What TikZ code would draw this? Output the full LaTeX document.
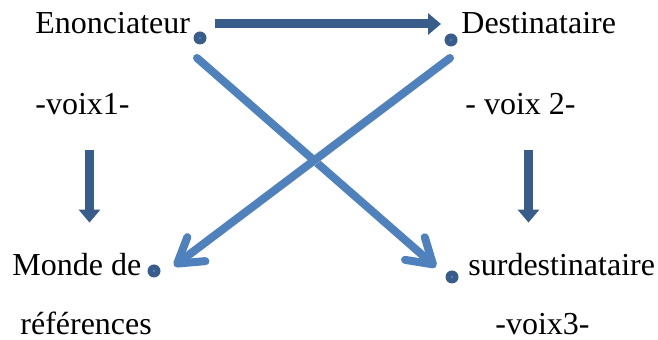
\documentclass[tikz,border=0pt]{standalone}
\usepackage{fontspec}
\setmainfont{Liberation Serif}
\usepackage{xcolor}
\usetikzlibrary{arrows.meta,positioning}
\definecolor{darkblue}{HTML}{385D8A}
\definecolor{lightblue}{HTML}{4F81BD}

\begin{document}
\begin{tikzpicture}[
    x=0.5pt, y=-0.5pt,
    lbl/.style={anchor=base west, inner sep=0pt, text height=11pt, text depth=3pt, font=\fontsize{16}{19}\selectfont},
    pt/.style={circle, fill=darkblue, inner sep=0pt, minimum size=6.5pt, path picture={\fill[lightblue] (path picture bounding box.center) circle (0.7pt);}},
    darr/.style={draw=darkblue, line width=4.5pt, -{Triangle[length=6.5pt, width=10.5pt]}},
    larr/.style={draw=lightblue, line width=4pt, line cap=round,
        -{Straight Barb[length=12pt, width=15pt, line cap=round, round]},
        preaction={draw=black!18, transform canvas={shift={(1.2pt,-1.5pt)}}}}
]
    \useasboundingbox (0,0) rectangle (658,340);

    \node[lbl] (enon) at (35,34) {Enonciateur};
    \node[lbl] (dest) at (461,34) {Destinataire};
    \node[lbl] (v1) at (35,115) {-voix1-};
    \node[lbl] (v2) at (465,115) {- voix 2-};
    \node[lbl] (monde) at (12,276) {Monde de};
    \node[lbl] (refs) at (20,335) {références};
    \node[lbl] (sur) at (468,276) {surdestinataire};
    \node[lbl] (v3) at (495,335) {-voix3-};

    \node[pt] (d1) at (200,38) {};
    \node[pt] (d2) at (451,40) {};
    \node[pt] (d3) at (154,271) {};
    \node[pt] (d4) at (452,277) {};

    \draw[darr] ([shift={(25,-2)}]enon.east) -- ([shift={(-20,-2)}]dest.west);
    \draw[darr] ([shift={(7,29)}]v1.south) -- ([shift={(7,-31)}]v1.south |- monde.north);
    \draw[darr] ([shift={(8,29)}]v2.south) -- ([shift={(8,-31)}]v2.south |- sur.north);

    \draw[larr] ([shift={(-3,20)}]d1.center) -- ([shift={(-16,-10)}]d4.center);
    \draw[larr] ([shift={(-1,18)}]d2.center) -- ([shift={(20,-5)}]d3.center);
\end{tikzpicture}
\end{document}
